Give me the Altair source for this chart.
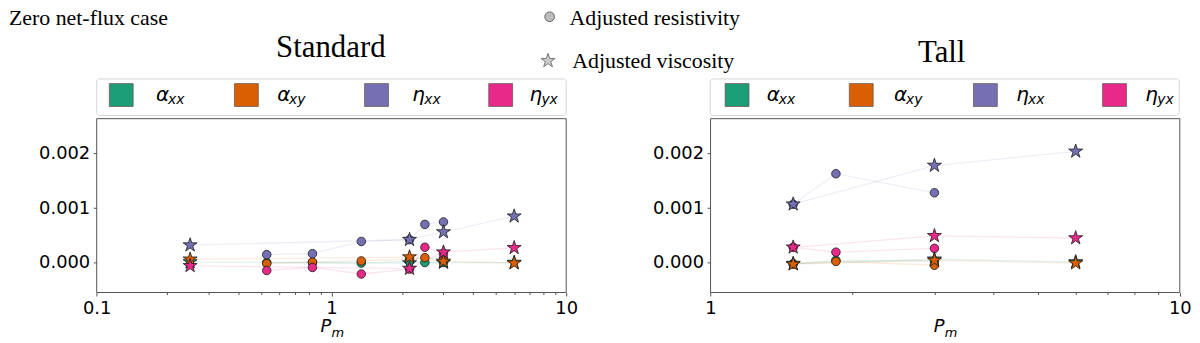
import altair as alt
import pandas as pd

# ---------------- data ----------------
COMPONENTS = ["axx", "axy", "exx", "eyx"]
GLYPHS = ["α", "α", "η", "η"]
SUBSCRIPTS = ["xx", "xy", "xx", "yx"]
COLORS = ["#1b9e77", "#d95f02", "#7570b3", "#e7298a"]

# Standard box, adjusted resistivity (circles)
std_res_pm = [0.53, 0.83, 1.34, 2.15, 2.5, 3.0]
std_res_axx = [0.0, 0.0, -0.00001, 0.00002, 0.0, 0.0]
std_res_axy = [-0.00002, 0.00001, 0.00003, 0.00006, 0.00009, 0.00005]
std_res_exx = [0.000145, 0.000163, 0.000387, 0.00042, 0.0007, 0.000745]
std_res_eyx = [-0.000146, -0.00009, -0.00021, -0.00012, 0.00028, 0.00017]

# Standard box, adjusted viscosity (stars)
std_vis_pm = [0.25, 2.15, 3.0, 6.0]
std_vis_axx = [0.00001, -0.00001, 0.0, 0.0]
std_vis_axy = [0.00006, 0.0001, 0.00002, -0.00001]
std_vis_exx = [0.00032, 0.00042, 0.00056, 0.00085]
std_vis_eyx = [-0.00006, -0.00011, 0.00019, 0.00027]

# Tall box, adjusted resistivity (circles)
tall_res_pm = [1.5, 1.85, 3.0]
tall_res_axx = [-0.00002, 0.00004, 0.00003]
tall_res_axy = [-0.00003, 0.00002, -0.00005]
tall_res_exx = [0.00107, 0.00163, 0.00128]
tall_res_eyx = [0.00028, 0.00019, 0.00026]

# Tall box, adjusted viscosity (stars)
tall_vis_pm = [1.5, 3.0, 6.0]
tall_vis_axx = [-0.00002, 0.00006, 0.00001]
tall_vis_axy = [-0.00003, 0.00004, -0.00001]
tall_vis_exx = [0.00107, 0.00178, 0.00204]
tall_vis_eyx = [0.00028, 0.00049, 0.00045]

Y_DOMAIN = [-0.00055, 0.00264]
Y_TICKS = [0.0, 0.001, 0.002]
STD_X_DOMAIN = [0.1, 10]
TALL_X_DOMAIN = [1, 10]
STD_X_TICKS = [0.1, 0.2, 0.3, 0.4, 0.5, 0.6, 0.7, 0.8, 0.9, 1, 2, 3, 4, 5, 6, 7, 8, 9, 10]
TALL_X_TICKS = [1, 2, 3, 4, 5, 6, 7, 8, 9, 10]
MAJOR_TEST = "datum.value == 0.1 || datum.value == 1 || datum.value == 10"


def long_df(pm, series, kind):
    rows = []
    for comp, vals in zip(COMPONENTS, series):
        for p, v in zip(pm, vals):
            rows.append({"Pm": p, "value": v, "comp": comp, "kind": kind,
                         "series": comp + "_" + kind})
    return pd.DataFrame(rows)


std_res = long_df(std_res_pm, [std_res_axx, std_res_axy, std_res_exx, std_res_eyx], "res")
std_vis = long_df(std_vis_pm, [std_vis_axx, std_vis_axy, std_vis_exx, std_vis_eyx], "vis")
tall_res = long_df(tall_res_pm, [tall_res_axx, tall_res_axy, tall_res_exx, tall_res_eyx], "res")
tall_vis = long_df(tall_vis_pm, [tall_vis_axx, tall_vis_axy, tall_vis_exx, tall_vis_eyx], "vis")

# ---------------- layout constants (svg pixels) ----------------
W, H = 1192, 333
PLOT_TOP, PLOT_BOTTOM = 110.3, 285.3
STD_LEFT, STD_RIGHT = 89.3, 562.0
TALL_LEFT, TALL_RIGHT = 707.3, 1179.7

STAR = ("M0,-1L0.2245,-0.309L0.9511,-0.309L0.3633,0.118L0.5878,0.809L0,0.382"
        "L-0.5878,0.809L-0.3633,0.118L-0.9511,-0.309L-0.2245,-0.309Z")

color_enc = alt.Color("comp:N", scale=alt.Scale(domain=COMPONENTS, range=COLORS), legend=None)


def panel(res_df, vis_df, xdomain, xticks, left, right):
    xs = alt.Scale(type="log", domain=xdomain, range=[left, right], nice=False)
    ys = alt.Scale(domain=Y_DOMAIN, range=[PLOT_BOTTOM, PLOT_TOP], nice=False, zero=False)
    xa = alt.Axis(values=xticks, format="~g", orient="bottom", offset=-(H - PLOT_BOTTOM),
                  labelExpr="(" + MAJOR_TEST + ") ? datum.label : ''",
                  tickSize={"condition": {"test": MAJOR_TEST, "value": 3.5}, "value": 2},
                  tickColor="#555", tickWidth=1, domain=False, grid=False, title=None,
                  labelFont="DejaVu Sans", labelFontSize=18, labelColor="black",
                  labelPadding=3.5, labelFlush=False, labelOverlap=False)
    ya = alt.Axis(values=Y_TICKS, format=".3f", orient="left", offset=-left,
                  tickSize=3.5, tickColor="#555", tickWidth=1, domain=False, grid=False,
                  title=None, labelFont="DejaVu Sans", labelFontSize=18, labelColor="black",
                  labelPadding=3.5)
    both = pd.concat([res_df, vis_df])
    lines = alt.Chart(both).mark_line(strokeWidth=1.3, opacity=0.12).encode(
        x=alt.X("Pm:Q", scale=xs, axis=xa),
        y=alt.Y("value:Q", scale=ys, axis=ya),
        color=color_enc,
        detail="series:N",
    )
    circles = alt.Chart(res_df).mark_point(
        shape="circle", filled=True, size=74, stroke="#1a1a1a", strokeWidth=0.8, opacity=1
    ).encode(
        x=alt.X("Pm:Q", scale=xs, axis=xa),
        y=alt.Y("value:Q", scale=ys, axis=ya),
        color=color_enc,
    )
    stars = alt.Chart(vis_df).mark_point(
        shape=STAR, filled=True, size=220, stroke="#1a1a1a", strokeWidth=0.8, opacity=1
    ).encode(
        x=alt.X("Pm:Q", scale=xs, axis=xa),
        y=alt.Y("value:Q", scale=ys, axis=ya),
        color=color_enc,
    )
    frame_df = pd.DataFrame({"x0": [xdomain[0]], "x1": [xdomain[1]],
                             "y0": [Y_DOMAIN[0]], "y1": [Y_DOMAIN[1]]})
    frame = alt.Chart(frame_df).mark_rect(fillOpacity=0, stroke="#555", strokeWidth=1).encode(
        x=alt.X("x0:Q", scale=xs, axis=xa), x2="x1:Q",
        y=alt.Y("y0:Q", scale=ys, axis=ya), y2="y1:Q",
    )
    return alt.layer(lines, circles, stars, frame)


def text_layer(s, x, y, size, font, weight="normal", style="normal", align="left",
               baseline="alphabetic", color="black"):
    return alt.Chart(pd.DataFrame({"t": [s]})).mark_text(
        align=align, baseline=baseline, font=font, fontSize=size,
        fontWeight=weight, fontStyle=style, color=color
    ).encode(x=alt.value(x), y=alt.value(y), text="t:N")


def box_layer(x0, x1, y0, y1, fill, stroke, sw=1, radius=0):
    return alt.Chart(pd.DataFrame({"t": [0]})).mark_rect(
        fill=fill, stroke=stroke, strokeWidth=sw, cornerRadius=radius
    ).encode(x=alt.value(x0), x2=alt.value(x1), y=alt.value(y0), y2=alt.value(y1))


def legend_layers(box_x0, box_x1, swatch_x, label_x):
    layers = [box_layer(box_x0, box_x1, 70.3, 107.0, "white", "#d6d6d6", 1, 3)]
    for i in range(len(COMPONENTS)):
        layers.append(box_layer(swatch_x[i], swatch_x[i] + 24, 75.0, 98.0,
                                COLORS[i], "#6b5a55", 0.8))
        layers.append(text_layer(GLYPHS[i], label_x[i], 92.0, 20, "DejaVu Sans", style="italic"))
        layers.append(text_layer(SUBSCRIPTS[i], label_x[i] + 12, 95.5, 14, "DejaVu Sans",
                                 style="italic"))
    return layers


def pm_label(x):
    return [text_layer("P", x, 325.5, 18, "DejaVu Sans", style="italic"),
            text_layer("m", x + 11, 330.3, 13, "DejaVu Sans", style="italic")]


marker_df = pd.DataFrame({"t": [0]})
legend_circle = alt.Chart(marker_df).mark_point(
    shape="circle", filled=True, size=95, fill="#bdbdbd", stroke="#666", strokeWidth=1, opacity=1
).encode(x=alt.value(545.3), y=alt.value(7.7))
legend_star = alt.Chart(marker_df).mark_point(
    shape=STAR, filled=True, size=225, fill="#cccccc", stroke="#777", strokeWidth=1, opacity=1
).encode(x=alt.value(543.7), y=alt.value(52.0))

header = [
    text_layer("Zero net-flux case", 1, 16.0, 22, "Liberation Serif"),
    text_layer("Standard", 325, 48.7, 31, "Liberation Serif", align="center"),
    text_layer("Tall", 940, 53.7, 31, "Liberation Serif", align="center"),
    legend_circle,
    text_layer("Adjusted resistivity", 565.3, 16.0, 22, "Liberation Serif"),
    legend_star,
    text_layer("Adjusted viscosity", 568, 59.0, 22, "Liberation Serif"),
]

legends = (legend_layers(89.3, 562.0, [102, 228, 359, 484], [149, 271, 407, 525])
           + legend_layers(707.0, 1179.3, [722, 847, 972, 1102], [764, 892, 1015, 1145]))

left_panel = panel(std_res, std_vis, STD_X_DOMAIN, STD_X_TICKS, STD_LEFT, STD_RIGHT)
right_panel = panel(tall_res, tall_vis, TALL_X_DOMAIN, TALL_X_TICKS, TALL_LEFT, TALL_RIGHT)

chart = alt.layer(
    left_panel, right_panel, *header, *legends, *pm_label(314.7), *pm_label(932.0)
).resolve_scale(
    x="independent", y="independent"
).properties(
    width=W, height=H, padding=0, autosize=alt.AutoSizeParams(type="none"),
    background="white"
).configure_view(stroke="transparent")

chart.save("out.html", embed_options={"renderer": "svg", "actions": False})
